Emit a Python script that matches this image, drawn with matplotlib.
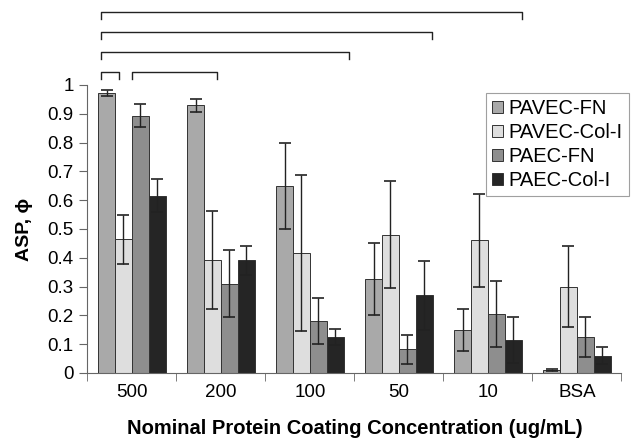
import matplotlib
matplotlib.use("Agg")
import matplotlib.pyplot as plt
import numpy as np

plt.rcParams['font.family'] = ['Liberation Sans', 'DejaVu Sans']

categories = ["500", "200", "100", "50", "10", "BSA"]
series = ["PAVEC-FN", "PAVEC-Col-I", "PAEC-FN", "PAEC-Col-I"]
values = {
    "PAVEC-FN":    [0.973, 0.930, 0.650, 0.327, 0.150, 0.010],
    "PAVEC-Col-I": [0.464, 0.391, 0.417, 0.480, 0.460, 0.300],
    "PAEC-FN":     [0.893, 0.310, 0.179, 0.082, 0.205, 0.125],
    "PAEC-Col-I":  [0.616, 0.391, 0.125, 0.270, 0.116, 0.060],
}
errors = {
    "PAVEC-FN":    [0.010, 0.023, 0.149, 0.125, 0.073, 0.003],
    "PAVEC-Col-I": [0.085, 0.170, 0.270, 0.185, 0.160, 0.140],
    "PAEC-FN":     [0.040, 0.117, 0.080, 0.050, 0.115, 0.070],
    "PAEC-Col-I":  [0.058, 0.050, 0.027, 0.120, 0.080, 0.030],
}
colors = {
    "PAVEC-FN": "#a9a9a9",
    "PAVEC-Col-I": "#dedede",
    "PAEC-FN": "#8e8e8e",
    "PAEC-Col-I": "#252525",
}
y_ticks = [0, 0.1, 0.2, 0.3, 0.4, 0.5, 0.6, 0.7, 0.8, 0.9, 1.0]
# significance brackets: (x_start, x_end, level) in category units
brackets = [(-0.348, 4.38, 1.254), (-0.348, 3.37, 1.183), (-0.348, 2.44, 1.116),
            (-0.348, -0.146, 1.046), (-0.003, 0.952, 1.046)]

fig = plt.figure(figsize=(6.38, 4.44), dpi=100)
ax = fig.add_axes([0.137, 0.16, 0.837, 0.6486])

x = np.arange(len(categories))
w = 0.19
for i, s in enumerate(series):
    ax.bar(x + (i - 1.5) * w, values[s], w, color=colors[s], edgecolor="#333333",
           linewidth=0.7, yerr=errors[s], error_kw=dict(ecolor="#222222", elinewidth=1.0,
                                                      capsize=4, capthick=1.2),
           label=s, zorder=2)

ax.set_xlim(-0.5, len(categories) - 0.5)
ax.set_ylim(0, 1.0)
ax.set_yticks(y_ticks)
ax.set_yticklabels(["0" if v == 0 else ("1" if v == 1 else f"{v:g}") for v in y_ticks], fontsize=13.5)
ax.set_xticks(x)
ax.set_xticklabels(categories, fontsize=13.5)
ax.tick_params(axis="x", length=0, pad=8)
ax.set_xticks(np.arange(len(categories) + 1) - 0.5, minor=True)
ax.tick_params(axis="x", which="minor", length=6, color="#666666")
ax.tick_params(axis="y", length=6, color="#666666", pad=4)
for sp in ["top", "right"]:
    ax.spines[sp].set_visible(False)
for sp in ["left", "bottom"]:
    ax.spines[sp].set_color("#666666")

ax.set_ylabel("ASP, ϕ", fontsize=14, fontweight="bold", labelpad=10)
ax.set_xlabel("Nominal Protein Coating Concentration (ug/mL)", fontsize=14.5,
              fontweight="bold", labelpad=13)

for x0, x1, yl in brackets:
    ax.plot([x0, x0, x1, x1], [yl - 0.025, yl, yl, yl - 0.025], color="#222222",
            lw=1.0, clip_on=False)

leg = ax.legend(loc="upper right", bbox_to_anchor=(1.014, 0.972), fontsize=14.5,
                frameon=True, fancybox=False, edgecolor="#888888",
                handlelength=0.55, handleheight=0.55, handletextpad=0.3,
                borderpad=0.3, labelspacing=0.25, borderaxespad=0)
leg.get_frame().set_linewidth(0.8)

fig.savefig("out.png", dpi=100)
